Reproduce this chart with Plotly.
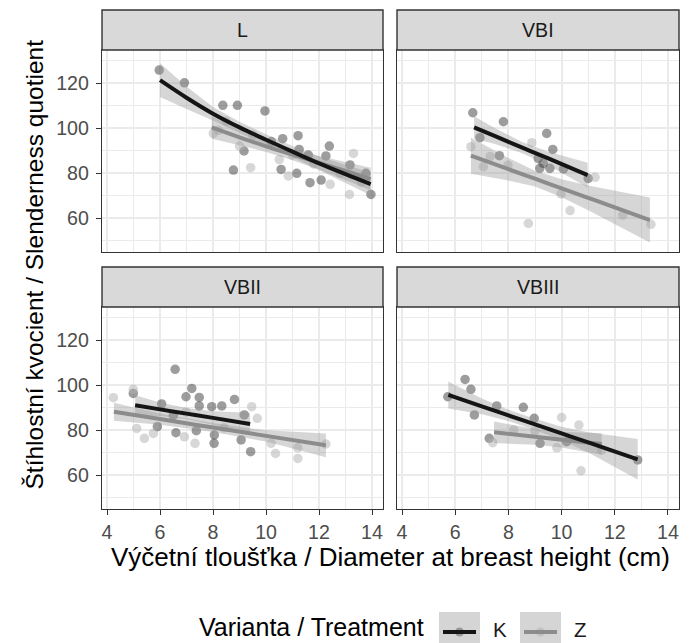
import plotly.graph_objects as go

# ---------------- data ----------------
panels = ["L", "VBI", "VBII", "VBIII"]
groups = ["K", "Z"]

# observed points
L_K_x = [5.97, 6.92, 8.37, 8.92, 9.96, 9.17, 8.77, 10.63, 11.21, 11.25, 10.57, 11.16, 11.66, 12.08, 12.39, 12.26, 13.17, 13.77, 13.96, 10.2, 11.6]
L_K_y = [125.8, 120.1, 110.1, 110.1, 107.6, 89.8, 81.3, 95.3, 96.6, 90.5, 81.6, 79.9, 75.7, 76.9, 92.0, 87.6, 83.6, 79.9, 70.5, 94.0, 88.0]
L_Z_x = [8.01, 9.42, 13.30, 13.15, 12.42, 10.84, 8.5, 9.5, 10.2, 11.0, 11.8, 12.8, 13.6, 9.0, 10.5, 8.2]
L_Z_y = [97.6, 82.4, 88.7, 70.5, 75.0, 78.7, 103.0, 97.0, 93.0, 88.0, 84.0, 80.0, 76.0, 92.0, 86.0, 99.0]

VBI_K_x = [6.66, 7.81, 9.44, 9.67, 6.93, 7.66, 9.12, 9.31, 9.56, 10.07, 11.00, 9.18]
VBI_K_y = [106.8, 102.8, 97.6, 90.5, 95.7, 87.7, 86.5, 84.3, 82.1, 81.8, 77.6, 82.1]
VBI_Z_x = [6.59, 7.06, 8.88, 8.75, 10.32, 9.98, 11.26, 12.30, 13.36, 7.98, 7.31]
VBI_Z_y = [91.7, 82.8, 93.5, 57.6, 63.3, 70.7, 78.1, 61.3, 57.2, 83.5, 87.3]

VBII_K_x = [6.57, 4.99, 7.20, 6.98, 7.48, 7.48, 7.95, 8.33, 8.81, 9.18, 5.90, 6.60, 7.37, 8.05, 8.04, 9.06, 9.42, 6.06, 6.50]
VBII_K_y = [107.0, 96.3, 98.5, 94.8, 94.5, 90.7, 90.4, 90.7, 93.6, 86.7, 81.5, 78.8, 79.7, 77.8, 74.1, 75.6, 70.4, 91.6, 86.5]
VBII_Z_x = [4.24, 4.99, 5.12, 5.41, 5.75, 6.92, 7.32, 9.46, 9.67, 10.19, 10.36, 11.20, 11.20, 12.26, 8.42, 6.98]
VBII_Z_y = [94.4, 98.1, 80.7, 76.3, 78.5, 77.0, 74.1, 90.4, 85.2, 74.1, 69.6, 72.1, 67.4, 73.8, 81.0, 88.0]

VBIII_K_x = [6.37, 6.59, 5.72, 6.72, 7.28, 8.56, 8.97, 7.56, 9.19, 10.19, 12.86]
VBIII_K_y = [102.5, 98.1, 94.8, 86.7, 76.3, 90.1, 85.2, 90.7, 74.1, 74.8, 66.7]
VBIII_Z_x = [7.41, 10.00, 10.65, 10.73, 9.82, 11.51, 9.00, 8.20]
VBIII_Z_y = [74.4, 85.6, 82.2, 61.9, 72.1, 71.1, 79.6, 80.0]

# fitted smooths: x, fit, lower, upper
L_K_fx = [6.0, 7.0, 8.0, 9.0, 10.0, 11.0, 12.0, 13.0, 13.95]
L_K_fy = [121.3, 113.5, 106.4, 100.3, 94.8, 89.5, 84.3, 79.5, 75.1]
L_K_lo = [113.8, 108.5, 103.4, 97.8, 92.3, 87.0, 81.3, 75.5, 70.1]
L_K_hi = [128.8, 118.5, 109.4, 102.8, 97.3, 92.0, 87.3, 83.5, 80.1]
L_Z_fx = [7.95, 9.0, 10.0, 11.0, 12.0, 13.0, 13.95]
L_Z_fy = [100.3, 95.9, 91.9, 88.2, 84.6, 80.9, 77.3]
L_Z_lo = [95.3, 92.4, 89.4, 85.7, 81.6, 76.9, 72.3]
L_Z_hi = [105.3, 99.4, 94.4, 90.7, 87.6, 84.9, 82.3]

VBI_K_fx = [6.71, 7.5, 8.5, 9.5, 10.98]
VBI_K_fy = [100.3, 96.4, 91.4, 86.5, 79.1]
VBI_K_lo = [95.3, 92.9, 88.9, 83.5, 73.6]
VBI_K_hi = [105.3, 99.9, 93.9, 89.5, 84.6]
VBI_Z_fx = [6.59, 8.0, 9.0, 10.0, 11.0, 12.0, 13.32]
VBI_Z_fy = [87.7, 81.7, 77.5, 73.2, 69.0, 64.7, 59.1]
VBI_Z_lo = [79.7, 76.7, 74.0, 69.2, 63.5, 57.2, 49.1]
VBI_Z_hi = [95.7, 86.7, 81.0, 77.2, 74.5, 72.2, 69.1]

VBII_K_fx = [5.06, 6.0, 7.0, 8.0, 9.40]
VBII_K_fy = [91.0, 89.2, 87.3, 85.4, 82.7]
VBII_K_lo = [86.5, 86.2, 84.8, 82.4, 77.7]
VBII_K_hi = [95.5, 92.2, 89.8, 88.4, 87.7]
VBII_Z_fx = [4.26, 6.0, 8.0, 10.0, 12.26]
VBII_Z_fy = [88.1, 84.9, 81.1, 77.4, 73.2]
VBII_Z_lo = [84.1, 82.4, 79.1, 74.9, 67.9]
VBII_Z_hi = [92.1, 87.4, 83.1, 79.9, 78.5]

VBIII_K_fx = [5.74, 7.0, 8.0, 9.0, 10.0, 11.0, 12.86]
VBIII_K_fy = [95.6, 90.5, 86.5, 82.5, 78.5, 74.5, 67.0]
VBIII_K_lo = [89.6, 87.0, 84.0, 80.0, 75.5, 70.0, 58.0]
VBIII_K_hi = [101.6, 94.0, 89.0, 85.0, 81.5, 79.0, 76.0]
VBIII_Z_fx = [7.46, 9.0, 10.0, 11.51]
VBIII_Z_fy = [79.0, 77.0, 75.7, 73.8]
VBIII_Z_lo = [74.2, 73.5, 72.2, 69.0]
VBIII_Z_hi = [83.8, 80.5, 79.2, 78.6]

x_ticks = [4, 6, 8, 10, 12, 14]
y_ticks = [60, 80, 100, 120]
x_title = "Výčetní tloušťka / Diameter at breast height (cm)"
y_title = "Štíhlostní kvocient / Slenderness quotient"
legend_title = "Varianta / Treatment"

points = {
    ("L", "K"): (L_K_x, L_K_y), ("L", "Z"): (L_Z_x, L_Z_y),
    ("VBI", "K"): (VBI_K_x, VBI_K_y), ("VBI", "Z"): (VBI_Z_x, VBI_Z_y),
    ("VBII", "K"): (VBII_K_x, VBII_K_y), ("VBII", "Z"): (VBII_Z_x, VBII_Z_y),
    ("VBIII", "K"): (VBIII_K_x, VBIII_K_y), ("VBIII", "Z"): (VBIII_Z_x, VBIII_Z_y),
}
fits = {
    ("L", "K"): (L_K_fx, L_K_fy, L_K_lo, L_K_hi), ("L", "Z"): (L_Z_fx, L_Z_fy, L_Z_lo, L_Z_hi),
    ("VBI", "K"): (VBI_K_fx, VBI_K_fy, VBI_K_lo, VBI_K_hi), ("VBI", "Z"): (VBI_Z_fx, VBI_Z_fy, VBI_Z_lo, VBI_Z_hi),
    ("VBII", "K"): (VBII_K_fx, VBII_K_fy, VBII_K_lo, VBII_K_hi), ("VBII", "Z"): (VBII_Z_fx, VBII_Z_fy, VBII_Z_lo, VBII_Z_hi),
    ("VBIII", "K"): (VBIII_K_fx, VBIII_K_fy, VBIII_K_lo, VBIII_K_hi), ("VBIII", "Z"): (VBIII_Z_fx, VBIII_Z_fy, VBIII_Z_lo, VBIII_Z_hi),
}

# ---------------- styling ----------------
FONT = "Liberation Sans, Arial, Helvetica, sans-serif"
W, H = 694, 643
ML, MR, MT, MB = 102, 15, 10, 134
PW, PH = W - ML - MR, H - MT - MB
point_col = {"K": "rgba(60,60,60,0.5)", "Z": "rgba(175,175,175,0.5)"}
line_col = {"K": "#151515", "Z": "#8c8c8c"}
ribbon_col = "rgba(153,153,153,0.4)"

axmap = {"L": ("x3", "y3"), "VBI": ("x4", "y4"), "VBII": ("x", "y"), "VBIII": ("x2", "y2")}
xdom_left = [0, 281 / PW]
xdom_right = [295 / PW, 1]
ydom_bottom = [0, 202 / PH]
ydom_top = [257 / PH, 459 / PH]

fig = go.Figure()

for p in panels:
    xa, ya = axmap[p]
    for g in groups:
        px, py = points[(p, g)]
        fig.add_trace(go.Scatter(x=px, y=py, mode="markers", xaxis=xa, yaxis=ya,
                                 marker=dict(size=9.5, color=point_col[g], line=dict(width=0)),
                                 name=g, showlegend=False, hoverinfo="x+y"))
    for g in ["Z", "K"]:
        fx, fy, lo, hi = fits[(p, g)]
        fig.add_trace(go.Scatter(x=fx + fx[::-1], y=hi + lo[::-1], mode="lines", fill="toself",
                                 fillcolor=ribbon_col, line=dict(width=0), xaxis=xa, yaxis=ya,
                                 showlegend=False, hoverinfo="skip"))
    for g in ["Z", "K"]:
        fx, fy, lo, hi = fits[(p, g)]
        fig.add_trace(go.Scatter(x=fx, y=fy, mode="lines", xaxis=xa, yaxis=ya,
                                 line=dict(color=line_col[g], width=4, shape="spline"),
                                 name=g, showlegend=False))

grid = "#EBEBEB"
def xaxis(dom, anchor, labels):
    return dict(domain=dom, anchor=anchor, range=[3.81, 14.415], tickvals=x_ticks,
                showticklabels=labels, ticks="outside" if labels else "", ticklen=5, tickwidth=1.3,
                ticklabelstandoff=0,
                tickcolor="#333333", showgrid=True, gridcolor=grid, gridwidth=1.6,
                minor=dict(tickvals=[5, 7, 9, 11, 13], showgrid=True, gridcolor=grid, gridwidth=0.9),
                showline=True, linecolor="#333333", linewidth=1.4, mirror=True, zeroline=False,
                tickfont=dict(family=FONT, size=19.6, color="#4D4D4D"))
def yaxis(dom, anchor, labels):
    return dict(domain=dom, anchor=anchor, range=[44.9, 134.7], tickvals=y_ticks,
                showticklabels=labels, ticks="outside" if labels else "", ticklen=5, tickwidth=1.3,
                ticklabelstandoff=3,
                tickcolor="#333333", showgrid=True, gridcolor=grid, gridwidth=1.6,
                minor=dict(tickvals=[50, 70, 90, 110, 130], showgrid=True, gridcolor=grid, gridwidth=0.9),
                showline=True, linecolor="#333333", linewidth=1.4, mirror=True, zeroline=False,
                tickfont=dict(family=FONT, size=19.6, color="#4D4D4D"))

fig.update_layout(
    xaxis=xaxis(xdom_left, "y", True), yaxis=yaxis(ydom_bottom, "x", True),
    xaxis2=xaxis(xdom_right, "y2", True), yaxis2=yaxis(ydom_bottom, "x2", False),
    xaxis3=xaxis(xdom_left, "y3", False), yaxis3=yaxis(ydom_top, "x3", True),
    xaxis4=xaxis(xdom_right, "y4", False), yaxis4=yaxis(ydom_top, "x4", False),
)

shapes, annos = [], []
strip_h = 40 / 202
for p in panels:
    xa, ya = axmap[p]
    shapes.append(dict(type="rect", xref=f"{xa} domain", yref=f"{ya} domain", x0=0, x1=1,
                       y0=1, y1=1 + strip_h, fillcolor="#D9D9D9",
                       line=dict(color="#333333", width=1.4), layer="above"))
    annos.append(dict(text=p, xref=f"{xa} domain", yref=f"{ya} domain", x=0.5, y=1 + strip_h / 2,
                      showarrow=False, xanchor="center", yanchor="middle",
                      font=dict(family=FONT, size=19.6, color="#1A1A1A")))

def px2x(v):
    return (v - ML) / PW
def py2y(v):
    return (H - MB - v) / PH

# ---- legend (ggplot-style keys: grey box, line and point) ----
key_left = {"K": 439, "Z": 520}
key_point = {"K": "rgba(110,110,110,0.6)", "Z": "rgba(185,185,185,0.7)"}
for g in groups:
    kx = key_left[g]
    shapes.append(dict(type="rect", xref="paper", yref="paper", x0=px2x(kx), x1=px2x(kx + 41),
                       y0=py2y(655), y1=py2y(612), fillcolor="#D5D5D5", line=dict(width=0),
                       layer="below"))
    shapes.append(dict(type="circle", xref="paper", yref="paper", x0=px2x(kx + 16), x1=px2x(kx + 25),
                       y0=py2y(636.5), y1=py2y(627.5), fillcolor=key_point[g], line=dict(width=0),
                       layer="above"))
    shapes.append(dict(type="line", xref="paper", yref="paper", x0=px2x(kx + 4), x1=px2x(kx + 37),
                       y0=py2y(632), y1=py2y(632), line=dict(color=line_col[g], width=4),
                       layer="above"))
    annos.append(dict(text=g, xref="paper", yref="paper", x=px2x(kx + 53), y=py2y(629),
                      showarrow=False, xanchor="left", yanchor="middle", borderpad=0,
                      font=dict(family=FONT, size=20.5, color="#1A1A1A")))
annos.append(dict(text=legend_title, xref="paper", yref="paper", x=px2x(425), y=py2y(627),
                  showarrow=False, xanchor="right", yanchor="middle", borderpad=0,
                  font=dict(family=FONT, size=25, color="#000000")))

annos.append(dict(text=x_title, xref="paper", yref="paper", x=0.5, y=py2y(557),
                  showarrow=False, xanchor="center", yanchor="middle",
                  font=dict(family=FONT, size=26, color="#000000")))
annos.append(dict(text=y_title, xref="paper", yref="paper", x=px2x(34), y=0.49,
                  showarrow=False, xanchor="center", yanchor="middle", textangle=-90,
                  font=dict(family=FONT, size=24.5, color="#000000")))

fig.update_layout(
    width=W, height=H, margin=dict(l=ML, r=MR, t=MT, b=MB, autoexpand=False),
    paper_bgcolor="white", plot_bgcolor="white", showlegend=False,
    shapes=shapes, annotations=annos,
)

fig.write_html("out.html")
